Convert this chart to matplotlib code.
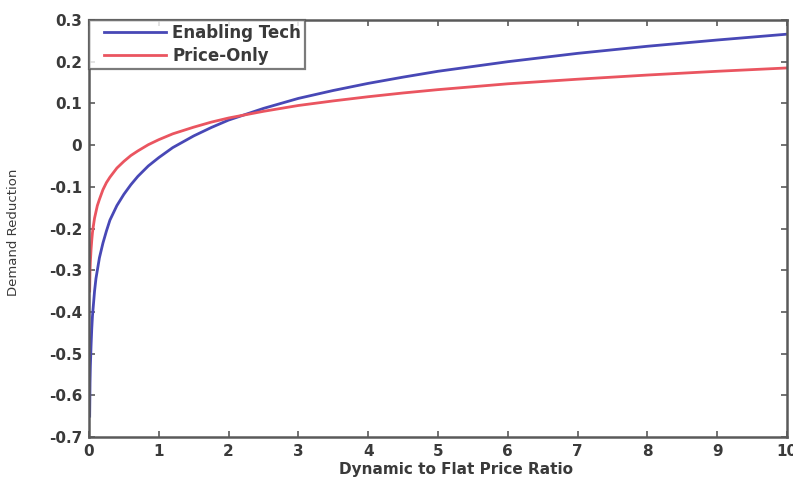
import matplotlib
matplotlib.use("Agg")
import matplotlib.pyplot as plt
from matplotlib.legend_handler import HandlerLine2D

# ratio of dynamic to flat price (x) and demand reduction
ratio = [0.01, 0.015, 0.02, 0.03, 0.04, 0.05, 0.06, 0.08, 0.1, 0.12, 0.15, 0.2, 0.25,
         0.3, 0.4, 0.5, 0.6, 0.7, 0.85, 1, 1.2, 1.5, 1.75, 2, 2.5, 3, 3.5,
         4, 4.5, 5, 6, 7, 8, 9, 10]
enabling_tech = [-0.65, -0.57, -0.53, -0.48, -0.44, -0.41, -0.39, -0.35, -0.32, -0.30,
                 -0.27, -0.235, -0.206, -0.18, -0.145, -0.118, -0.095, -0.075, -0.05,
                 -0.03, -0.006, 0.022, 0.042, 0.06, 0.088, 0.112, 0.131, 0.148, 0.163,
                 0.177, 0.2, 0.22, 0.237, 0.252, 0.266]
price_only = [-0.35, -0.30, -0.28, -0.25, -0.228, -0.21, -0.197, -0.175, -0.16, -0.145,
              -0.13, -0.107, -0.09, -0.077, -0.055, -0.039, -0.025, -0.014, 0.001,
              0.013, 0.027, 0.043, 0.055, 0.065, 0.081, 0.095, 0.106, 0.116, 0.125,
              0.133, 0.147, 0.158, 0.168, 0.177, 0.185]

x_ticks = list(range(0, 11))
y_ticks = [-0.7, -0.6, -0.5, -0.4, -0.3, -0.2, -0.1, 0, 0.1, 0.2, 0.3]
y_tick_labels = ['-0.7', '-0.6', '-0.5', '-0.4', '-0.3', '-0.2', '-0.1', '0', '0.1', '0.2', '0.3']

plt.rcParams['font.family'] = ['DejaVu Sans']
text_col = '#3a3a3a'
axis_col = '#5a5a5a'

fig = plt.figure(figsize=(7.93, 4.83), dpi=100)
ax = fig.add_axes([0.1122, 0.0952, 0.8802, 0.8634])

l1, = ax.plot(ratio, enabling_tech, color='#4848b6', lw=2.0, label='Enabling Tech')
l2, = ax.plot(ratio, price_only, color='#ea5560', lw=2.0, label='Price-Only')

ax.set_xlim(0, 10)
ax.set_ylim(-0.7, 0.3)
ax.set_xticks(x_ticks)
ax.set_yticks(y_ticks)
ax.set_yticklabels(y_tick_labels)
ax.tick_params(direction='in', top=True, right=True, length=4, width=1.2,
               colors=axis_col, labelcolor=text_col, labelsize=11, pad=5)
for lab in ax.get_xticklabels() + ax.get_yticklabels():
    lab.set_fontweight('bold')
for sp in ax.spines.values():
    sp.set_color(axis_col)
    sp.set_linewidth(1.8)

ax.set_xlabel('Dynamic to Flat Price Ratio', fontsize=11, fontweight='bold',
              color=text_col)
ax.xaxis.set_label_coords(0.526, -0.06)
ax.set_ylabel('Demand Reduction', fontsize=9.5, color=text_col)
ax.yaxis.set_label_coords(-0.099, 0.49)

hmap = {l1: HandlerLine2D(xpad=0.64), l2: HandlerLine2D(xpad=0.64)}
leg = ax.legend(loc='upper left', fontsize=12, frameon=True, fancybox=False,
                borderaxespad=0, borderpad=0.25, handlelength=4.35, handletextpad=0.4,
                labelspacing=0.3, handler_map=hmap)
leg.get_frame().set_edgecolor(axis_col)
leg.get_frame().set_linewidth(1.6)
for t in leg.get_texts():
    t.set_color(text_col)
    t.set_fontweight('bold')

fig.savefig('out.png', dpi=100)
plt.close(fig)
